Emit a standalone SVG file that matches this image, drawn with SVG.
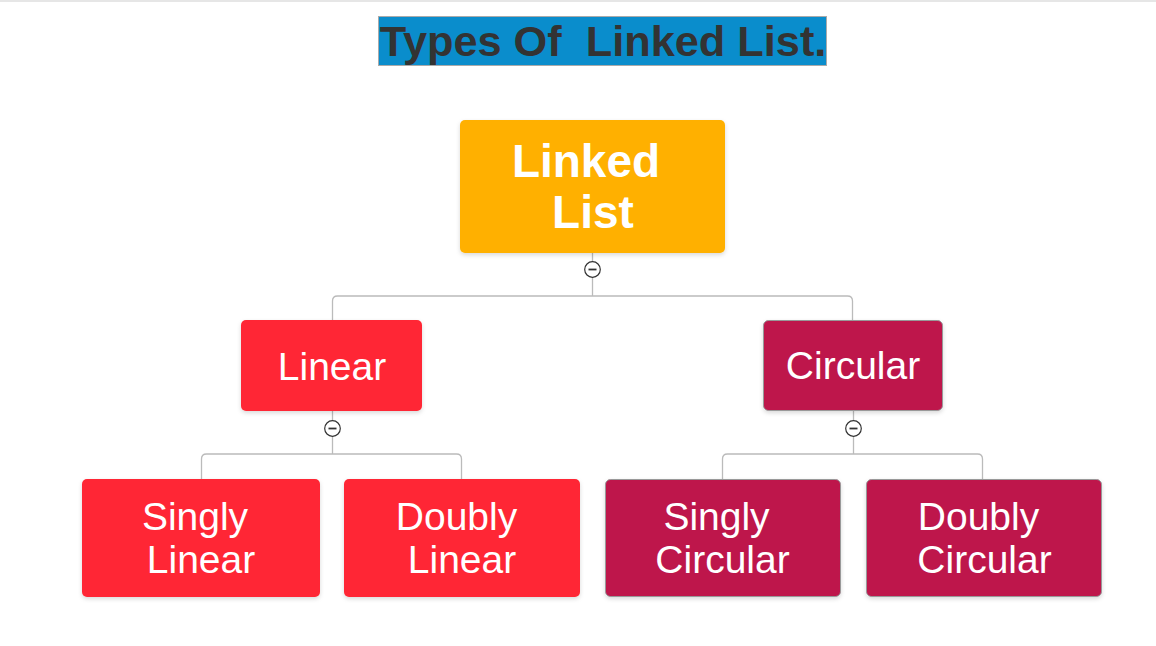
<svg xmlns="http://www.w3.org/2000/svg" width="1156" height="646" viewBox="0 0 1156 646">
<defs>
<filter id="sh" x="-10%" y="-10%" width="120%" height="130%">
<feDropShadow dx="0" dy="2" stdDeviation="2" flood-color="#000" flood-opacity="0.15"/>
</filter>
</defs>
<style>
.lbl{font-family:"Liberation Sans",Arial,sans-serif;fill:#fff;text-anchor:middle;font-size:39px}
.root{font-weight:bold;font-size:46px}
.red{fill:#FF2834}
.mag{fill:#BE134C;stroke:#999;stroke-width:1}
.con{fill:none;stroke:#bbb;stroke-width:1.3}
.tog circle{fill:#fff;stroke:#333;stroke-width:1.2}
.tog line{stroke:#333;stroke-width:1.8}
</style>
<rect width="1156" height="646" fill="#fff"/>
<line x1="0" y1="1" x2="1156" y2="1" stroke="#e6e6e6" stroke-width="2"/>
<g id="title">
<rect x="378.5" y="16.5" width="448" height="49" fill="#0A8DCC" stroke="#aaa"/>
<text x="603" y="56" font-family="Liberation Sans,Arial,sans-serif" font-weight="bold" font-size="43.3" fill="#333" text-anchor="middle" xml:space="preserve">Types Of  Linked List.</text>
</g>
<g id="connectors">
<path class="con" d="M592.5 253V296M332.5 320V301Q332.5 296 337.5 296H847.5Q852.5 296 852.5 301V320"/>
<path class="con" d="M332.5 411V454M201.5 479V459Q201.5 454 206.5 454H456.5Q461.5 454 461.5 459V479"/>
<path class="con" d="M853.5 411V454M722.5 480V459Q722.5 454 727.5 454H977.5Q982.5 454 982.5 459V480"/>
</g>
<g id="node-linked-list">
<rect x="460" y="120" width="265" height="133" rx="5" fill="#FFB000" filter="url(#sh)"/>
<text class="lbl root" x="586" y="177">Linked</text>
<text class="lbl root" x="593" y="228">List</text>
</g>
<g id="toggle-root" class="tog"><circle cx="592.5" cy="269.5" r="7.8"/><line x1="588.5" y1="269.5" x2="596.5" y2="269.5"/></g>
<g id="node-linear">
<rect class="red" x="241" y="320" width="181" height="91" rx="5" filter="url(#sh)"/>
<text class="lbl" x="332" y="380">Linear</text>
</g>
<g id="toggle-linear" class="tog"><circle cx="332.5" cy="428.5" r="7.8"/><line x1="328.5" y1="428.5" x2="336.5" y2="428.5"/></g>
<g id="node-circular">
<rect class="mag" x="763.5" y="320.5" width="179" height="90" rx="5" filter="url(#sh)"/>
<text class="lbl" x="853" y="379">Circular</text>
</g>
<g id="toggle-circular" class="tog"><circle cx="853.5" cy="428.5" r="7.8"/><line x1="849.5" y1="428.5" x2="857.5" y2="428.5"/></g>
<g id="node-singly-linear">
<rect class="red" x="82" y="479" width="238" height="118" rx="5" filter="url(#sh)"/>
<text class="lbl" x="195" y="530">Singly</text>
<text class="lbl" x="201" y="573">Linear</text>
</g>
<g id="node-doubly-linear">
<rect class="red" x="344" y="479" width="236" height="118" rx="5" filter="url(#sh)"/>
<text class="lbl" x="456.5" y="530">Doubly</text>
<text class="lbl" x="462" y="573">Linear</text>
</g>
<g id="node-singly-circular">
<rect class="mag" x="605.5" y="479.5" width="235" height="117" rx="5" filter="url(#sh)"/>
<text class="lbl" x="716.5" y="530">Singly</text>
<text class="lbl" x="722.5" y="573">Circular</text>
</g>
<g id="node-doubly-circular">
<rect class="mag" x="866.5" y="479.5" width="235" height="117" rx="5" filter="url(#sh)"/>
<text class="lbl" x="978.5" y="530">Doubly</text>
<text class="lbl" x="984.5" y="573">Circular</text>
</g>
</svg>
